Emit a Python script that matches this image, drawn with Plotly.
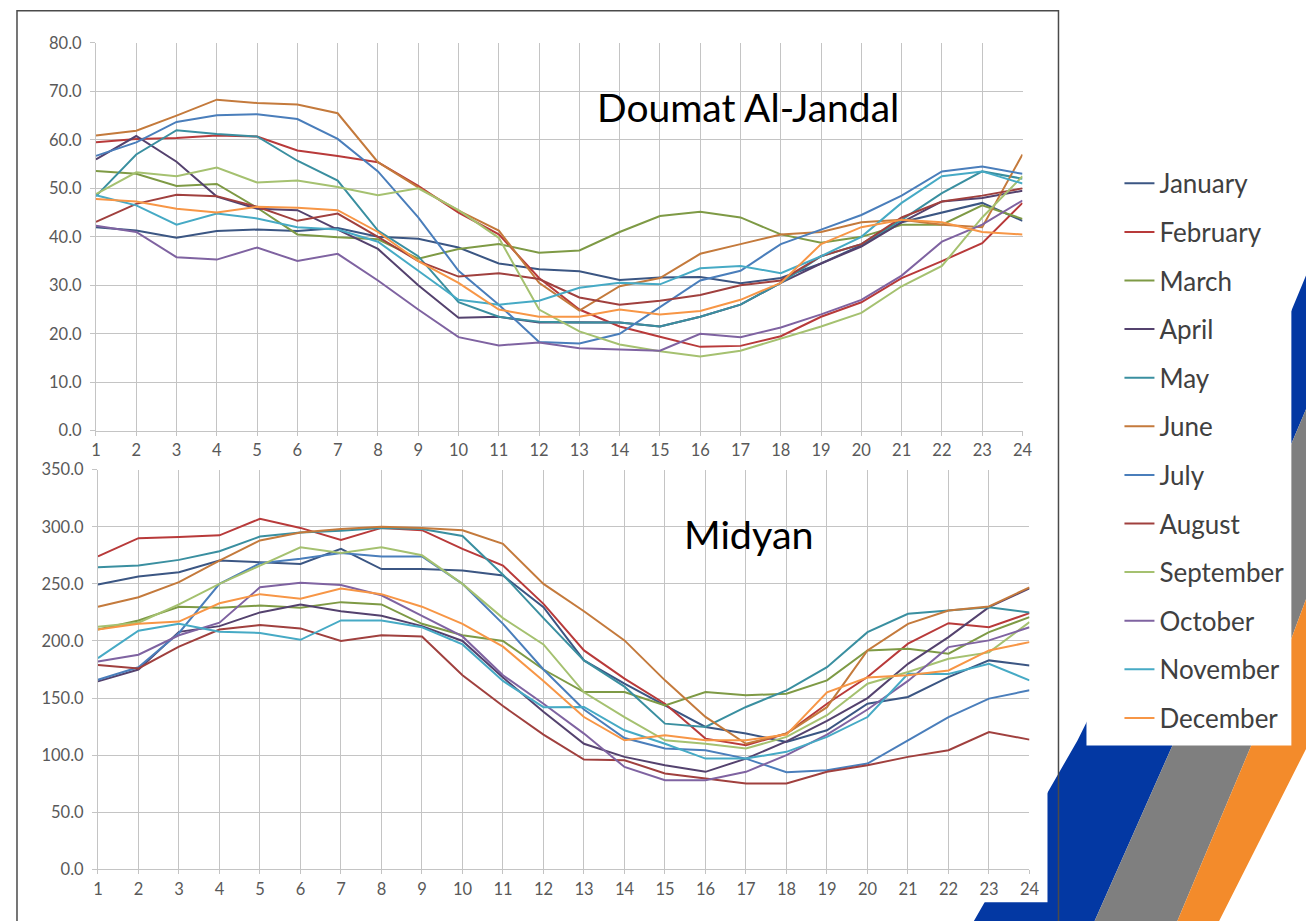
import plotly.graph_objects as go

W, H = 1306, 921

hours = list(range(1, 25))
months = ["January", "February", "March", "April", "May", "June", "July",
          "August", "September", "October", "November", "December"]
colors = ["#3B5683", "#B83A3A", "#7E9A45", "#54426E", "#3A8FA0", "#C47A3C",
          "#4A7EBB", "#A0403E", "#A5C170", "#7F63A1", "#46AAC5", "#F79646"]

# ---- Doumat Al-Jandal (top chart) ----
doumat_jan = [42.0, 41.3, 39.8, 41.2, 41.5, 41.2, 41.8, 40.0, 39.6, 37.8, 34.5, 33.3, 32.9, 31.1, 31.6, 31.7, 30.4, 31.5, 34.5, 38.3, 43.0, 45.0, 47.0, 43.3]
doumat_feb = [59.5, 60.2, 60.4, 60.9, 60.7, 57.8, 56.7, 55.4, 50.5, 45.0, 40.5, 31.5, 25.0, 21.5, 19.4, 17.3, 17.5, 19.5, 23.5, 26.5, 31.5, 35.0, 38.7, 47.0]
doumat_mar = [53.6, 53.0, 50.5, 50.9, 46.0, 40.5, 39.9, 39.5, 35.5, 37.5, 38.5, 36.7, 37.2, 41.0, 44.3, 45.2, 44.0, 40.5, 38.8, 40.0, 42.5, 42.5, 46.5, 43.7]
doumat_apr = [56.0, 60.8, 55.5, 48.3, 45.8, 45.5, 41.5, 37.5, 30.0, 23.3, 23.5, 22.3, 22.4, 22.3, 21.5, 23.5, 26.0, 30.5, 34.5, 38.0, 43.0, 47.3, 48.0, 49.5]
doumat_may = [48.4, 57.0, 62.0, 61.2, 60.7, 55.7, 51.6, 41.3, 36.0, 26.5, 23.5, 22.5, 22.3, 22.3, 21.5, 23.5, 26.0, 30.5, 36.0, 38.5, 43.5, 49.0, 53.5, 52.0]
doumat_jun = [60.9, 61.9, 65.0, 68.3, 67.6, 67.3, 65.5, 55.4, 50.2, 45.4, 41.3, 30.5, 24.8, 29.8, 31.5, 36.5, 38.5, 40.5, 41.0, 43.0, 43.5, 42.5, 42.0, 57.0]
doumat_jul = [56.7, 59.5, 63.7, 65.1, 65.3, 64.3, 60.2, 53.5, 44.0, 33.0, 26.0, 18.3, 18.0, 20.0, 25.5, 31.0, 33.0, 38.5, 41.5, 44.5, 48.5, 53.5, 54.5, 53.0]
doumat_aug = [43.1, 46.8, 48.7, 48.4, 46.2, 43.3, 44.8, 40.0, 35.0, 31.8, 32.5, 31.3, 27.5, 26.0, 26.8, 28.0, 30.0, 31.0, 36.0, 38.5, 44.0, 47.3, 48.5, 50.0]
doumat_sep = [48.8, 53.3, 52.5, 54.3, 51.2, 51.6, 50.3, 48.6, 50.0, 45.5, 39.8, 25.0, 20.5, 17.8, 16.4, 15.3, 16.5, 19.0, 21.5, 24.3, 29.8, 34.0, 44.0, 52.5]
doumat_oct = [42.3, 41.0, 35.8, 35.3, 37.8, 35.0, 36.5, 31.0, 25.0, 19.3, 17.6, 18.2, 17.0, 16.7, 16.5, 20.0, 19.3, 21.3, 24.0, 27.0, 32.0, 39.0, 42.5, 47.5]
doumat_nov = [48.6, 46.5, 42.5, 44.8, 43.8, 42.0, 41.5, 39.0, 33.0, 27.0, 26.0, 26.8, 29.5, 30.5, 30.2, 33.5, 34.0, 32.5, 36.0, 40.0, 47.0, 52.5, 53.5, 51.0]
doumat_dec = [47.8, 47.3, 45.8, 45.0, 46.2, 46.0, 45.5, 41.0, 35.0, 30.5, 25.0, 23.5, 23.5, 25.0, 24.0, 24.7, 27.0, 30.5, 38.5, 42.0, 43.5, 43.0, 41.0, 40.5]

# ---- Midyan (bottom chart) ----
midyan_jan = [249.4, 256.4, 260.2, 270.4, 269.0, 267.5, 280.6, 263.0, 263.0, 261.7, 257.3, 229.6, 183.0, 162.6, 143.6, 124.7, 118.9, 111.6, 121.8, 145.0, 151.0, 168.4, 183.0, 178.6]
midyan_feb = [274.0, 290.0, 291.0, 292.5, 307.0, 299.0, 288.5, 299.0, 297.0, 280.6, 266.0, 232.5, 191.7, 167.0, 145.0, 114.5, 108.7, 118.9, 145.0, 168.4, 197.6, 215.6, 212.0, 224.4]
midyan_mar = [210.0, 218.0, 230.0, 229.0, 231.0, 229.0, 234.0, 232.0, 215.0, 205.0, 200.0, 175.0, 155.3, 155.3, 143.6, 155.3, 152.4, 153.8, 165.5, 191.7, 193.2, 188.8, 207.7, 220.9]
midyan_apr = [164.6, 175.0, 208.0, 213.0, 225.0, 232.0, 226.0, 222.0, 213.0, 200.0, 168.0, 138.0, 110.0, 98.5, 91.2, 85.4, 97.0, 112.0, 130.0, 150.0, 180.0, 203.4, 229.6, 246.0]
midyan_may = [264.5, 266.0, 271.0, 278.6, 291.4, 295.0, 296.6, 299.0, 298.0, 292.0, 258.0, 220.0, 183.0, 160.0, 127.6, 124.7, 142.2, 156.8, 177.0, 207.7, 223.8, 226.7, 229.6, 225.0]
midyan_jun = [230.0, 238.3, 251.5, 270.4, 288.0, 295.0, 298.0, 300.0, 299.0, 297.0, 285.0, 250.0, 226.0, 200.5, 165.5, 133.5, 110.0, 118.9, 142.0, 191.7, 215.0, 226.7, 230.2, 247.0]
midyan_jul = [166.0, 177.0, 207.0, 250.0, 268.0, 272.0, 277.0, 274.0, 274.0, 250.0, 215.0, 175.0, 140.0, 115.0, 105.8, 104.3, 97.0, 85.0, 86.8, 92.7, 113.0, 133.4, 149.5, 156.8]
midyan_aug = [179.0, 176.0, 195.0, 210.0, 214.0, 211.0, 200.0, 205.0, 204.0, 170.0, 143.0, 118.0, 96.2, 95.6, 83.9, 79.5, 75.2, 75.2, 85.4, 91.2, 98.5, 104.3, 120.3, 113.6]
midyan_sep = [212.5, 216.0, 232.0, 250.0, 266.0, 282.0, 277.0, 282.0, 275.0, 250.0, 220.0, 197.0, 155.0, 133.4, 113.0, 110.0, 105.8, 116.0, 135.0, 162.6, 172.8, 184.4, 190.0, 216.5]
midyan_oct = [182.0, 188.0, 205.0, 216.0, 247.0, 251.0, 249.0, 240.0, 222.0, 204.0, 170.0, 145.0, 118.9, 89.7, 78.0, 78.0, 85.4, 100.0, 118.0, 140.0, 165.0, 194.6, 200.5, 212.0]
midyan_nov = [185.0, 209.0, 215.0, 208.0, 207.0, 201.0, 218.0, 218.0, 212.0, 197.0, 165.0, 142.0, 142.2, 121.8, 110.0, 97.0, 97.0, 102.9, 116.0, 133.4, 171.3, 171.0, 180.0, 165.5]
midyan_dec = [210.0, 215.0, 217.0, 233.0, 241.0, 237.0, 246.0, 241.0, 230.0, 215.0, 195.0, 165.0, 133.4, 113.0, 117.4, 113.0, 113.0, 118.0, 155.0, 168.0, 170.0, 174.2, 191.7, 199.0]

doumat = [doumat_jan, doumat_feb, doumat_mar, doumat_apr, doumat_may, doumat_jun,
          doumat_jul, doumat_aug, doumat_sep, doumat_oct, doumat_nov, doumat_dec]
midyan = [midyan_jan, midyan_feb, midyan_mar, midyan_apr, midyan_may, midyan_jun,
          midyan_jul, midyan_aug, midyan_sep, midyan_oct, midyan_nov, midyan_dec]

# map picture pixel positions to paper fractions (compensates the capture's slight inset)
SX, OX = 0.989, 4.0
SY, OY = 0.979, 9.0


def fx(px):
    return ((px - OX) / SX) / W


def fy(py):
    return 1 - ((py - OY) / SY) / H


fig = go.Figure()
for i, m in enumerate(months):
    fig.add_trace(go.Scatter(x=hours, y=doumat[i], mode="lines", name=m,
                             legendgroup=m, line=dict(color=colors[i], width=2),
                             xaxis="x", yaxis="y"))
for i, m in enumerate(months):
    fig.add_trace(go.Scatter(x=hours, y=midyan[i], mode="lines", name=m,
                             legendgroup=m, showlegend=False,
                             line=dict(color=colors[i], width=2),
                             xaxis="x2", yaxis="y2"))

tickfont = dict(family="Lato, Liberation Sans, sans-serif", size=16.5, color="#595959")
grid = "#c4c4c4"
xcommon = dict(tickmode="linear", tick0=1, dtick=1, showgrid=True, gridcolor=grid,
               gridwidth=1, showline=True, linecolor=grid, ticks="outside",
               ticklen=4, tickcolor=grid, tickfont=tickfont, zeroline=False,
               ticklabelstandoff=1, fixedrange=True)
ycommon = dict(showgrid=True, gridcolor=grid, gridwidth=1, showline=True,
               linecolor=grid, ticks="outside", ticklen=5, tickcolor=grid,
               tickfont=tickfont, zeroline=False, tickformat=".1f",
               ticklabelstandoff=5, fixedrange=True)

shapes = []


def poly(points, color):
    d = "M " + " L ".join(f"{fx(a):.5f},{fy(b):.5f}" for a, b in points) + " Z"
    return dict(type="path", xref="paper", yref="paper", path=d,
                fillcolor=color, line=dict(width=0), layer="below")


# decorative slide stripes
shapes.append(poly([(968, 930), (1077, 740), (1291, 310), (1320, 240),
                    (1320, 375), (1291, 443), (1172, 745), (1090, 930)], "#0338A3"))
shapes.append(poly([(1090, 930), (1172, 745), (1291, 443), (1320, 375),
                    (1320, 560), (1253, 740), (1173, 930)], "#7F7F7F"))
shapes.append(poly([(1173, 930), (1253, 740), (1320, 560), (1320, 720),
                    (1214, 930)], "#F38B2B"))
# chart picture background
shapes.append(dict(type="rect", xref="paper", yref="paper", x0=fx(30), x1=fx(1047),
                   y0=fy(902), y1=fy(30), fillcolor="white", line=dict(width=0),
                   layer="below"))
# legend box background
shapes.append(dict(type="rect", xref="paper", yref="paper", x0=fx(1086), x1=fx(1291),
                   y0=fy(745), y1=fy(155), fillcolor="white", line=dict(width=0),
                   layer="below"))
# frame
shapes.append(dict(type="rect", xref="paper", yref="paper", x0=fx(16), x1=fx(1058),
                   y0=fy(950), y1=0.9991, fillcolor="rgba(0,0,0,0)",
                   line=dict(color="#4a4a4a", width=1.5), layer="above"))

annotations = [
    dict(text="Doumat Al-Jandal", xref="paper", yref="paper", x=fx(747), y=fy(106),
         xanchor="center", yanchor="middle", showarrow=False,
         font=dict(family="Lato, Open Sans, sans-serif", size=39, color="black")),
    dict(text="Midyan", xref="paper", yref="paper", x=fx(748), y=fy(533),
         xanchor="center", yanchor="middle", showarrow=False,
         font=dict(family="Lato, Open Sans, sans-serif", size=39.5, color="black")),
]

fig.update_layout(
    width=W, height=H,
    margin=dict(l=0, r=0, t=0, b=0),
    paper_bgcolor="white", plot_bgcolor="rgba(0,0,0,0)",
    showlegend=True,
    legend=dict(x=fx(1119), y=fy(159), xanchor="left", yanchor="top",
                bgcolor="rgba(0,0,0,0)", tracegroupgap=11.8,
                font=dict(family="Lato, Liberation Sans, sans-serif", size=26, color="#404040")),
    xaxis=dict(domain=[fx(95), fx(1022)], range=[1, 24], anchor="y", **xcommon),
    yaxis=dict(domain=[fy(430), fy(42)], range=[0, 80], dtick=10, anchor="x", **ycommon),
    xaxis2=dict(domain=[fx(97), fx(1029)], range=[1, 24], anchor="y2", **xcommon),
    yaxis2=dict(domain=[fy(869), fy(469)], range=[0, 350], dtick=50, anchor="x2", **ycommon),
    shapes=shapes,
    annotations=annotations,
)

post = ("var gd=document.getElementById('{plot_id}');"
        "gd.style.position='fixed';gd.style.left='0px';gd.style.top='0px';"
        "document.body.style.margin='0';"
        "document.documentElement.style.overflow='hidden';"
        "document.body.style.overflow='hidden';")
fig.write_html("out.html", config={"displayModeBar": False}, post_script=post)
